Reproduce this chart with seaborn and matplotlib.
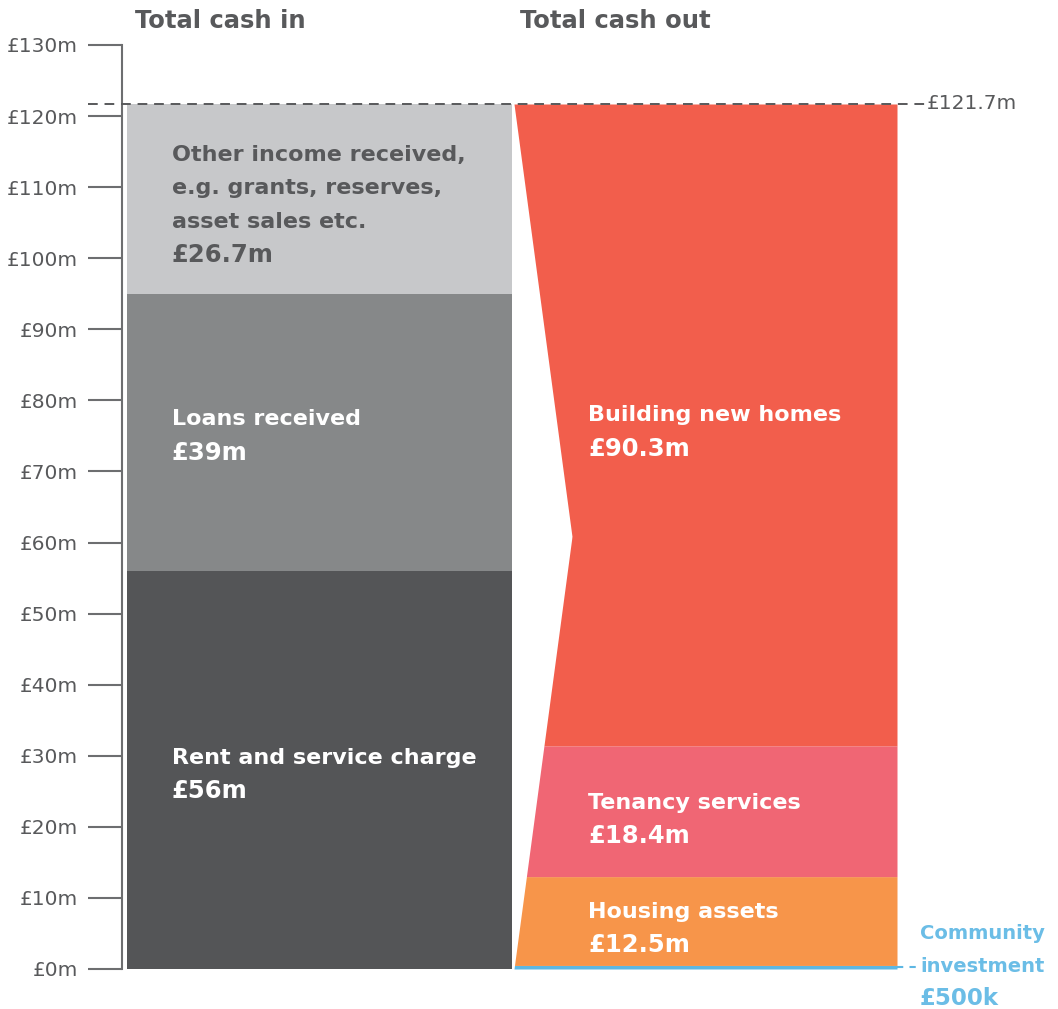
import matplotlib
matplotlib.use("Agg")
import matplotlib.pyplot as plt
import seaborn as sns
import numpy as np
import pandas as pd

# ---- data ----
cash_in_labels = ["Rent and service charge", "Loans received",
                  "Other income received,\ne.g. grants, reserves,\nasset sales etc."]
cash_in_values = [56.0, 39.0, 26.7]
cash_in_value_text = ["£56m", "£39m", "£26.7m"]

cash_out_labels = ["Community\ninvestment", "Housing assets", "Tenancy services", "Building new homes"]
cash_out_values = [0.5, 12.5, 18.4, 90.3]
cash_out_value_text = ["£500k", "£12.5m", "£18.4m", "£90.3m"]

total_text = "£121.7m"
columns = ["Total cash in", "Total cash out"]
yticks = list(range(0, 131, 10))
ytick_labels = [f"£{v}m" for v in yticks]

# ---- style ----
sns.set_theme(style="white")
plt.rcParams["font.family"] = ["DejaVu Sans"]
TXT = "#58595B"
in_colors = ["#545557", "#868889", "#C7C8CA"]
in_text_colors = ["white", "white", TXT]
out_colors = ["#5DB7E3", "#F7954A", "#F06674", "#F25E4C"]
BLUE_TXT = "#6BBDE6"

W, H = 1058, 1009
fig = plt.figure(figsize=(W / 100, H / 100), dpi=100)
# axes: spine at px x=122, y=0 at px 969, y=130 at px 45
ax = fig.add_axes([122 / W, (H - 969) / H, (W - 122) / W, (969 - 45) / H])

UNIT = 385.0  # pixels per category unit
x0 = -0.5 - 5 / UNIT
XLIM = (x0, x0 + (W - 122) / UNIT)

def px_x(p):
    return x0 + (p - 122) / UNIT

def px_y(p):
    return (969 - p) / (924 / 130)

# ---- left stacked bar (layered cumulative bars) ----
cum_in = np.cumsum(cash_in_values)
for i in range(len(cash_in_values) - 1, -1, -1):
    df = pd.DataFrame({"col": [columns[0]], "val": [cum_in[i]]})
    sns.barplot(data=df, x="col", y="val", order=columns, color=in_colors[i],
                width=1.0, saturation=1, ax=ax, linewidth=0)

total = cum_in[-1]

# ---- right side: chevron-shaped stacked shape ----
mid = total / 2
notch = 58 / UNIT

def left_edge(y):
    return 0.5 + 2 / UNIT + notch * (1 - np.abs(y - mid) / mid)

cum_out = np.concatenate([[0], np.cumsum(cash_out_values)])
for i, c in enumerate(out_colors):
    ys = np.linspace(cum_out[i], cum_out[i + 1], 200)
    ax.fill_betweenx(ys, left_edge(ys), 1.5, color=c, linewidth=0)

# community investment dashed lead
ax.plot([1.5, px_x(917)], [0.3, 0.3], color=out_colors[0], lw=1.5,
        ls=(0, (3, 3)), clip_on=False)

# ---- total dashed line ----
ax.plot([px_x(88), px_x(925)], [total, total], color=TXT, lw=1.4,
        ls=(0, (5, 3.5)), clip_on=False, zorder=5)
ax.text(px_x(927), total, total_text, color=TXT, fontsize=14.5, va="center", ha="left")

# ---- axes styling ----
ax.set_xlim(*XLIM)
ax.set_ylim(0, 130)
ax.set_xticks([])
ax.set_xlabel("")
ax.set_ylabel("")
ax.set_yticks(yticks)
ax.set_yticklabels(ytick_labels)
ax.tick_params(axis="y", length=24.5, width=1.5, color="#6D6E70", pad=7,
               labelsize=14.5, labelcolor=TXT, left=True)
for s in ["top", "right", "bottom"]:
    ax.spines[s].set_visible(False)
ax.spines["left"].set_color("#6D6E70")
ax.spines["left"].set_linewidth(1.5)

# ---- titles ----
fig.text(135 / W, 1 - 28 / H, columns[0], fontsize=17.5, fontweight="bold",
         color=TXT, ha="left", va="baseline")
fig.text(520 / W, 1 - 28 / H, columns[1], fontsize=17.5, fontweight="bold",
         color=TXT, ha="left", va="baseline")

# ---- segment labels ----
NAME_FS, VAL_FS = 16, 17.5
lx, rx = px_x(172), px_x(588)
# (name baseline px, value baseline px)
in_pos = [(764, 798), (425, 460), (228, 262)]
for i in range(3):
    nb, vb = in_pos[i]
    ax.text(lx, px_y(nb), cash_in_labels[i], fontsize=NAME_FS, fontweight="bold",
            color=in_text_colors[i], ha="left", va="baseline", linespacing=1.85)
    ax.text(lx, px_y(vb), cash_in_value_text[i], fontsize=VAL_FS, fontweight="bold",
            color=in_text_colors[i], ha="left", va="baseline")

out_pos = [None, (918, 952), (809, 843), (421, 456)]
for i in range(1, 4):
    nb, vb = out_pos[i]
    ax.text(rx, px_y(nb), cash_out_labels[i], fontsize=NAME_FS, fontweight="bold",
            color="white", ha="left", va="baseline")
    ax.text(rx, px_y(vb), cash_out_value_text[i], fontsize=VAL_FS, fontweight="bold",
            color="white", ha="left", va="baseline")

ax.text(px_x(920), px_y(972), cash_out_labels[0], fontsize=14, fontweight="bold",
        color=BLUE_TXT, ha="left", va="baseline", linespacing=1.95, clip_on=False)
ax.text(px_x(920), px_y(1005), cash_out_value_text[0], fontsize=16.5, fontweight="bold",
        color=BLUE_TXT, ha="left", va="baseline", clip_on=False)

fig.savefig("out.png", dpi=100)
